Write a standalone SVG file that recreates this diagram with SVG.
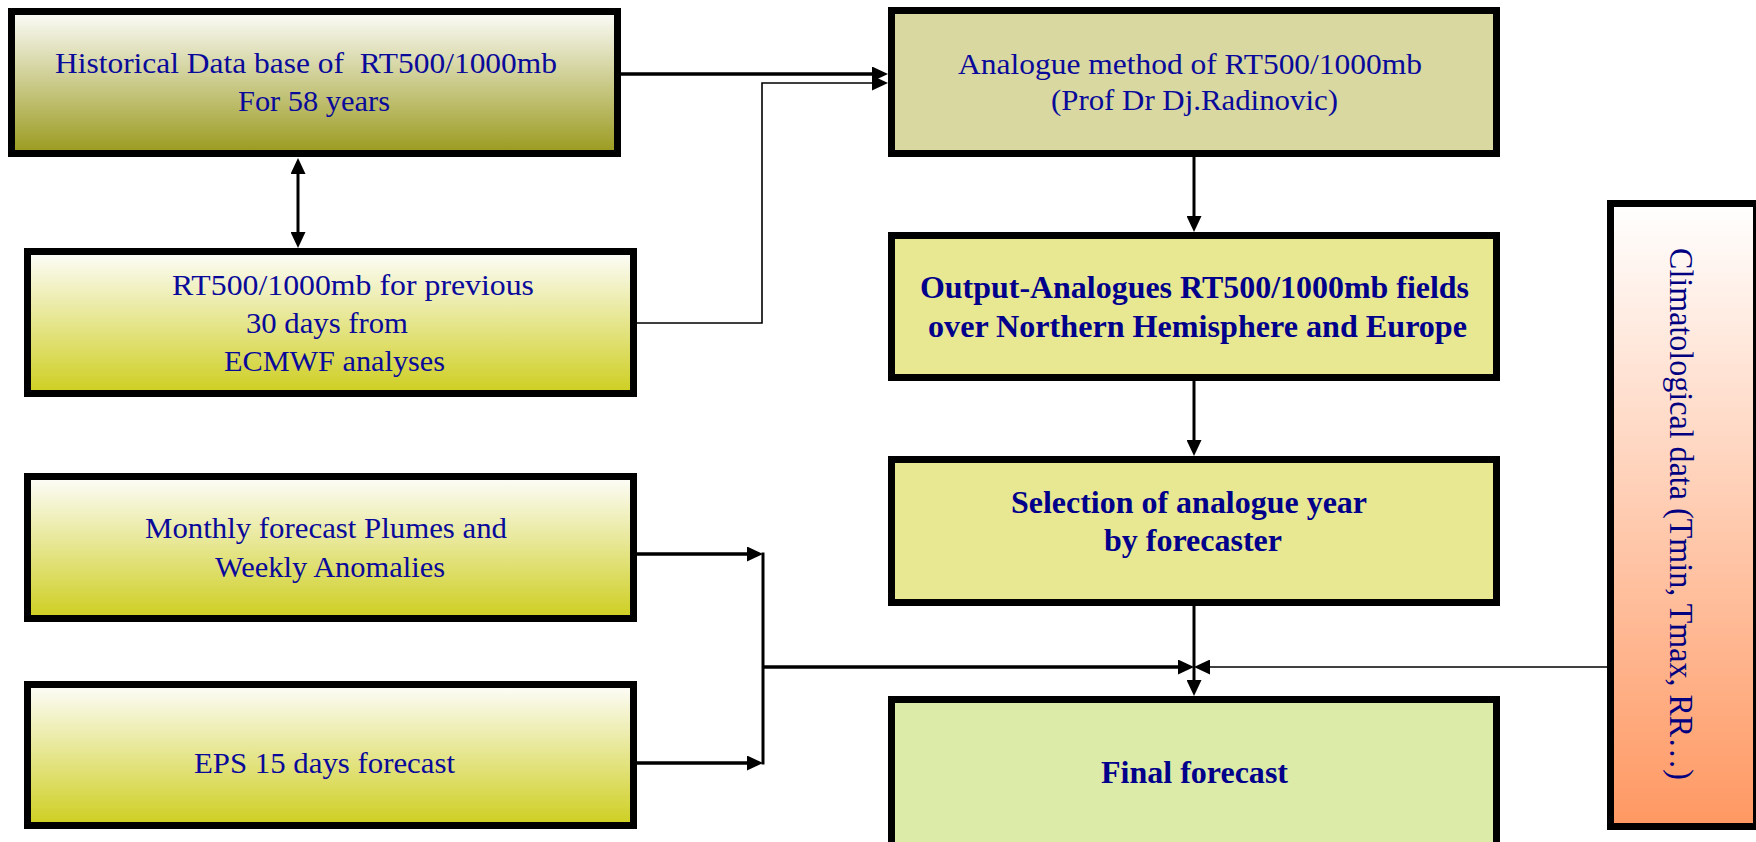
<svg xmlns="http://www.w3.org/2000/svg" width="1756" height="842" viewBox="0 0 1756 842">
  <defs>
    <linearGradient id="gOlive" x1="0" y1="0" x2="0" y2="1">
      <stop offset="0" stop-color="#fcfcfa"/>
      <stop offset="1" stop-color="#9a9a1e"/>
    </linearGradient>
    <linearGradient id="gYellow" x1="0" y1="0" x2="0" y2="1">
      <stop offset="0" stop-color="#fdfdfb"/>
      <stop offset="1" stop-color="#cece20"/>
    </linearGradient>
    <linearGradient id="gOrange" x1="0" y1="0" x2="0" y2="1">
      <stop offset="0" stop-color="#ffffff"/>
      <stop offset="1" stop-color="#ff9862"/>
    </linearGradient>
    <marker id="arr" markerUnits="userSpaceOnUse" markerWidth="16" markerHeight="15" refX="10" refY="7.5" orient="auto-start-reverse" viewBox="0 0 16 15">
      <path d="M0,0 L16,7.5 L0,15 z" fill="#000"/>
    </marker>
  </defs>
  <style>
    .box { stroke: #000; stroke-width: 7; }
    .reg { font-family: "Liberation Serif", "Times New Roman", serif; font-size: 30px; fill: #0a0a9a; text-anchor: middle; }
    .bold { font-family: "Liberation Serif", "Times New Roman", serif; font-size: 32px; font-weight: bold; fill: #00008b; text-anchor: middle; }
    .vert { font-family: "Liberation Serif", "Times New Roman", serif; font-size: 33px; fill: #000080; text-anchor: middle; }
    .thick { fill: none; stroke: #000; stroke-width: 3.5; }
    .mid { fill: none; stroke: #000; stroke-width: 3; }
    .thin { fill: none; stroke: #000; stroke-width: 1.6; }
  </style>
  <rect width="1756" height="842" fill="#ffffff"/>

  <g id="connectors">
    <path class="thick" d="M621,74 H882" marker-end="url(#arr)"/>
    <path class="thin" d="M637,323 H762 V83 H882" marker-end="url(#arr)"/>
    <path class="mid" d="M298,164 V242" marker-start="url(#arr)" marker-end="url(#arr)"/>
    <path class="mid" d="M1194,157 V226" marker-end="url(#arr)"/>
    <path class="mid" d="M1194,381 V450" marker-end="url(#arr)"/>
    <path class="mid" d="M1194,606 V690" marker-end="url(#arr)"/>
    <path class="thick" d="M637,554 H757" marker-end="url(#arr)"/>
    <path class="thick" d="M637,763 H757" marker-end="url(#arr)"/>
    <path class="mid" d="M763,552.5 V764.5"/>
    <path class="thick" d="M763,667 H1188" marker-end="url(#arr)"/>
    <path class="thin" d="M1607,667 H1200" marker-end="url(#arr)"/>
  </g>

  <g id="node-historical">
    <rect class="box" x="11.5" y="11.5" width="606" height="142" fill="url(#gOlive)"/>
    <text class="reg" x="306" y="73" textLength="502" lengthAdjust="spacingAndGlyphs">Historical Data base of&#160; RT500/1000mb</text>
    <text class="reg" x="314" y="111" textLength="152" lengthAdjust="spacingAndGlyphs">For 58 years</text>
  </g>

  <g id="node-previous">
    <rect class="box" x="27.5" y="251.5" width="606" height="142" fill="url(#gYellow)"/>
    <text class="reg" x="353" y="295" textLength="362" lengthAdjust="spacingAndGlyphs">RT500/1000mb for previous</text>
    <text class="reg" x="327" y="333" textLength="162" lengthAdjust="spacingAndGlyphs">30 days from</text>
    <text class="reg" x="334.5" y="371" textLength="221" lengthAdjust="spacingAndGlyphs">ECMWF analyses</text>
  </g>

  <g id="node-monthly">
    <rect class="box" x="27.5" y="476.5" width="606" height="142" fill="url(#gYellow)"/>
    <text class="reg" x="326" y="538" textLength="362" lengthAdjust="spacingAndGlyphs">Monthly forecast Plumes and</text>
    <text class="reg" x="330" y="577" textLength="230" lengthAdjust="spacingAndGlyphs">Weekly Anomalies</text>
  </g>

  <g id="node-eps">
    <rect class="box" x="27.5" y="684.5" width="606" height="141" fill="url(#gYellow)"/>
    <text class="reg" x="324.5" y="773" textLength="261" lengthAdjust="spacingAndGlyphs">EPS 15 days forecast</text>
  </g>

  <g id="node-analogue">
    <rect class="box" x="891.5" y="10.5" width="605" height="143" fill="#d8d8a0"/>
    <text class="reg" x="1190" y="74" textLength="464" lengthAdjust="spacingAndGlyphs">Analogue method of RT500/1000mb</text>
    <text class="reg" x="1194.5" y="110" textLength="287" lengthAdjust="spacingAndGlyphs">(Prof Dr Dj.Radinovic)</text>
  </g>

  <g id="node-output">
    <rect class="box" x="891.5" y="235.5" width="605" height="142" fill="#e8e892"/>
    <text class="bold" x="1194.5" y="298" textLength="549" lengthAdjust="spacingAndGlyphs">Output-Analogues RT500/1000mb fields</text>
    <text class="bold" x="1197.5" y="337" textLength="539" lengthAdjust="spacingAndGlyphs">over Northern Hemisphere and Europe</text>
  </g>

  <g id="node-selection">
    <rect class="box" x="891.5" y="459.5" width="605" height="143" fill="#e8e892"/>
    <text class="bold" x="1189" y="513" textLength="356" lengthAdjust="spacingAndGlyphs">Selection of analogue year</text>
    <text class="bold" x="1193" y="551" textLength="178" lengthAdjust="spacingAndGlyphs">by forecaster</text>
  </g>

  <g id="node-final">
    <rect class="box" x="891.5" y="699.5" width="605" height="146" fill="#ddeba8"/>
    <text class="bold" x="1194.5" y="783" textLength="187" lengthAdjust="spacingAndGlyphs">Final forecast</text>
  </g>

  <g id="node-climatological">
    <rect class="box" x="1610.5" y="203.5" width="146" height="623" fill="url(#gOrange)"/>
    <text class="vert" transform="translate(1670,514) rotate(90)" x="0" y="0" textLength="532" lengthAdjust="spacingAndGlyphs">Climatological data (Tmin, Tmax, RR…)</text>
  </g>
</svg>
